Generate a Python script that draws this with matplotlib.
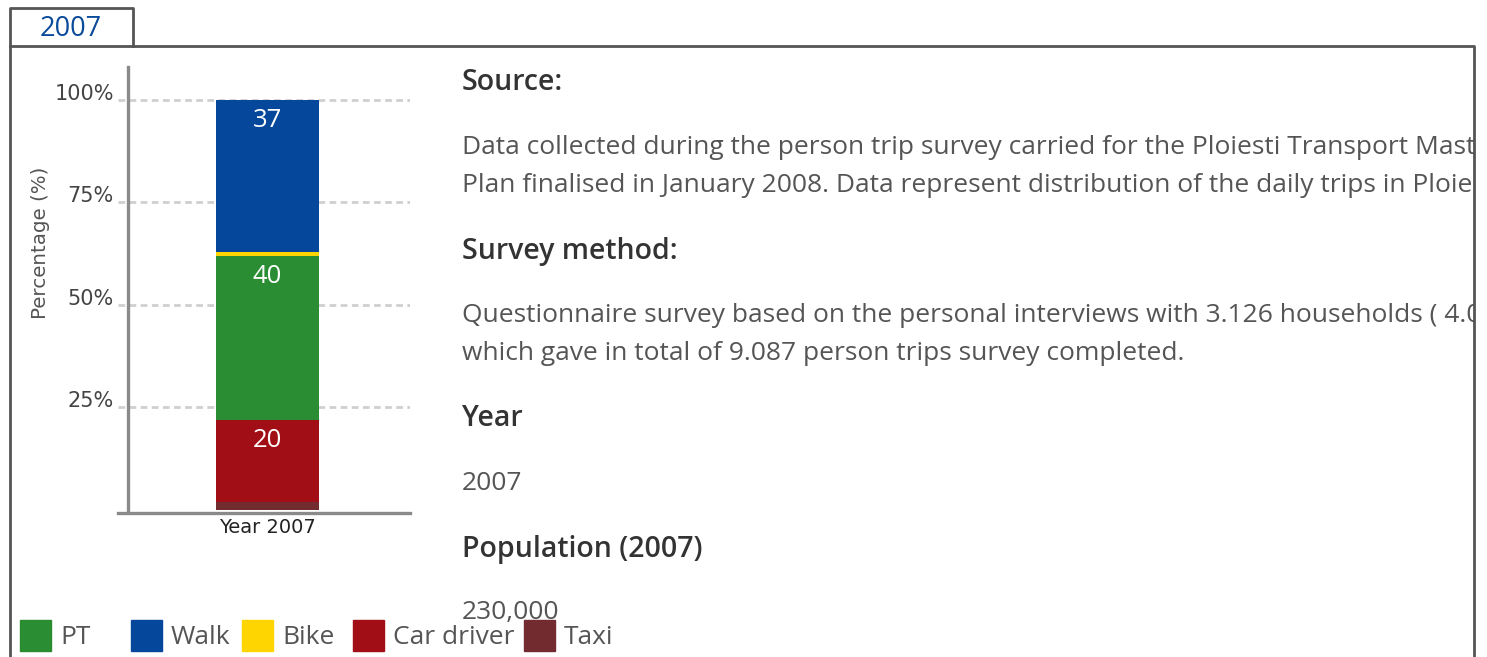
import matplotlib.pyplot as plt
from matplotlib.patches import Rectangle

# data
modes = ['Taxi', 'Car driver', 'PT', 'Bike', 'Walk']
shares = [2, 20, 40, 1, 37]
colors = {'PT': '#2a8d33', 'Walk': '#05479b', 'Bike': '#fed501',
          'Car driver': '#a10e15', 'Taxi': '#722b2f'}
labelled = ['Car driver', 'PT', 'Walk']
legend_order = ['PT', 'Walk', 'Bike', 'Car driver', 'Taxi']
category = 'Year 2007'
yticks = [25, 50, 75, 100]

W, H = 1487, 657
fig = plt.figure(figsize=(W / 100, H / 100), dpi=100)

# --- bar chart (axes spans x 118..410 px, y 67..510 px)
ax = fig.add_axes([118 / W, 1 - 510 / H, 292 / W, 443 / H])
ax.set_xlim(-0.871, 0.830)
ax.set_ylim(0, 108)

bottom = 0
for m, v in zip(modes, shares):
    ax.bar(0, v, width=0.6, bottom=bottom, color=colors[m], zorder=2)
    if m in labelled:
        ax.annotate(str(v), (0, bottom + v), xytext=(0, -15), textcoords='offset points',
                    ha='center', va='center', color='white', fontsize=18.5,
                    family='Open Sans', zorder=3)
    bottom += v

for y in yticks:
    ax.axhline(y, color='#cfcfcf', lw=2, dashes=(2.4, 1.6), zorder=1)

for s in ['top', 'right']:
    ax.spines[s].set_visible(False)
ax.spines['left'].set_position(('axes', 0.033))
ax.spines['bottom'].set_position(('outward', 2))
for s in ['left', 'bottom']:
    ax.spines[s].set_color('#8a8a8a')
    ax.spines[s].set_linewidth(2.4)

ax.set_yticks(yticks)
ax.set_yticklabels([f'{t}%' for t in yticks])
ax.tick_params(axis='y', length=0, pad=10, labelsize=15, labelcolor='#444444')
for lab in ax.get_yticklabels():
    lab.set_va('baseline')
ax.set_xticks([0])
ax.set_xticklabels([category])
ax.tick_params(axis='x', length=0, pad=4, labelsize=14, labelcolor='#222222')
ax.set_ylabel('Percentage (%)', fontsize=14.3, color='#555555')
ax.yaxis.set_label_coords(-0.233, 0.603)
ax.patch.set_alpha(0)

# --- overlay in pixel coords for frame, text, legend
ov = fig.add_axes([0, 0, 1, 1])
ov.set_xlim(0, W)
ov.set_ylim(H, 0)
ov.axis('off')

frame = '#555555'
ov.plot([10, 10, 133, 133], [657, 8, 8, 46], color=frame, lw=2)
ov.plot([10, 1474, 1474], [46, 46, 657], color=frame, lw=2, zorder=5)
ov.text(71, 29, '2007', ha='center', va='center', fontsize=19.5, color='#0a4a9a',
        family='Open Sans')

head = dict(fontsize=20.5, color='#333333', family='Open Sans', weight='semibold',
            va='center', ha='left')
body = dict(fontsize=19, color='#555555', family='Open Sans', va='center', ha='left')
ov.text(462, 82, 'Source:', **head)
ov.text(462, 148, 'Data collected during the person trip survey carried for the Ploiesti Transport Master', **body)
ov.text(462, 186, 'Plan finalised in January 2008. Data represent distribution of the daily trips in Ploiesti.', **body)
ov.text(462, 251, 'Survey method:', **head)
ov.text(462, 316, 'Questionnaire survey based on the personal interviews with 3.126 households ( 4.000 persons)', **body)
ov.text(462, 353, 'which gave in total of 9.087 person trips survey completed.', **body)
ov.text(462, 418, 'Year', **head)
ov.text(462, 483, '2007', **body)
ov.text(462, 550, 'Population (2007)', **head)
ov.text(462, 613, '230,000', **body)

# mask overflow beyond right border
ov.add_patch(Rectangle((1475, 40), 20, 620, color='white', zorder=4))

# legend
fig.canvas.draw()
r = fig.canvas.get_renderer()
x = 20
for m in legend_order:
    ov.add_patch(Rectangle((x, 620), 31, 31, color=colors[m], zorder=6))
    t = ov.text(x + 40, 637, m, fontsize=19, color='#555555', family='Open Sans',
                va='center', ha='left', zorder=6)
    tw = t.get_window_extent(r).width
    x += max(111, 40 + tw + 9)

fig.savefig('out.png', dpi=100)
